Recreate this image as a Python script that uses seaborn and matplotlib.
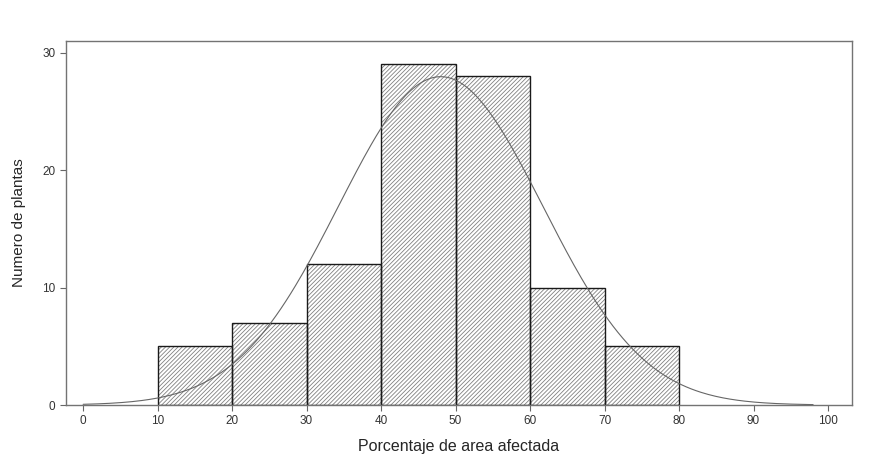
import numpy as np
import pandas as pd
import matplotlib
matplotlib.use("Agg")
import matplotlib.pyplot as plt
import seaborn as sns

# Data
bin_edges = [10, 20, 30, 40, 50, 60, 70, 80]
bin_mids = [15, 25, 35, 45, 55, 65, 75]
counts = [5, 7, 12, 29, 28, 10, 5]
x_ticks = [0, 10, 20, 30, 40, 50, 60, 70, 80, 90, 100]
y_ticks = [0, 10, 20, 30]
fit_mean = 48.0
fit_sd = 13.7

sns.set_style("white")
plt.rcParams['font.family'] = ['Liberation Sans', 'DejaVu Sans']
plt.rcParams['hatch.linewidth'] = 0.6

fig = plt.figure(figsize=(8.8, 4.65), dpi=100)
ax = fig.add_axes([0.075, 0.129, 0.893, 0.783])

df = pd.DataFrame({"mid": bin_mids, "n": counts})
# hatched fill
sns.histplot(data=df, x="mid", weights="n", bins=bin_edges, ax=ax,
             color="white", edgecolor="0.5", hatch="////////", linewidth=0, alpha=1)
# outlines
sns.histplot(data=df, x="mid", weights="n", bins=bin_edges, ax=ax,
             fill=False, color="0.1", edgecolor="0.1", linewidth=1.0)

# fitted normal curve
total = sum(counts)
width = bin_edges[1] - bin_edges[0]
xs = np.linspace(0, 98, 300)
ys = total * width / (fit_sd * np.sqrt(2 * np.pi)) * np.exp(-0.5 * ((xs - fit_mean) / fit_sd) ** 2)
sns.lineplot(x=xs, y=ys, ax=ax, color="0.4", linewidth=0.8)

ax.set_xlim(-2.3, 103.2)
ax.set_ylim(0, 31)
ax.set_xticks(x_ticks)
ax.set_yticks(y_ticks)
ax.tick_params(axis="both", which="both", direction="out", length=4, width=0.8,
               color="0.4", labelsize=8.5, labelcolor="0.2", bottom=True, left=True)
for s in ax.spines.values():
    s.set_color("0.45")
    s.set_linewidth(1.0)
ax.set_xlabel("Porcentaje de area afectada", fontsize=11.5, color="0.15", labelpad=8)
ax.set_ylabel("Numero de plantas", fontsize=11, color="0.15", labelpad=12)

fig.savefig("out.png", dpi=100)
